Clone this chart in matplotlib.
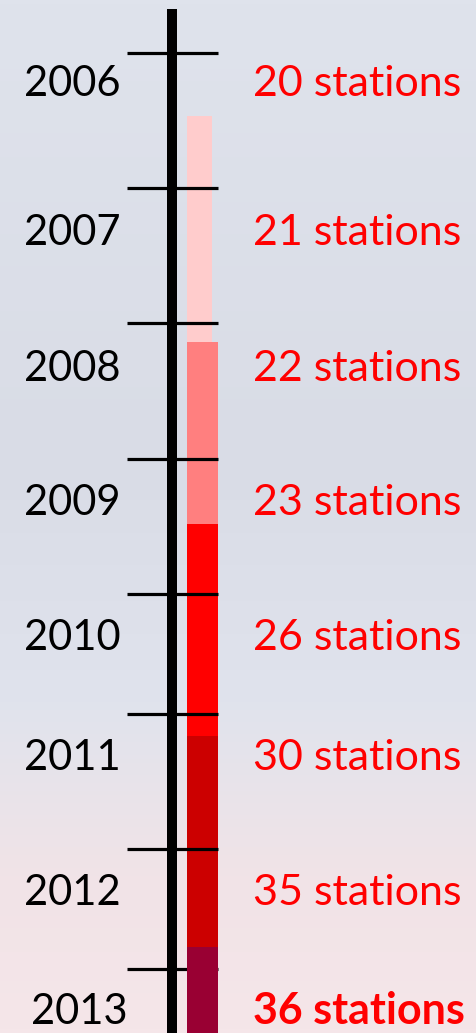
import matplotlib.pyplot as plt
import numpy as np
from matplotlib.colors import LinearSegmentedColormap

# timeline data
years = ["2006", "2007", "2008", "2009", "2010", "2011", "2012", "2013"]
stations = [20, 21, 22, 23, 26, 30, 35, 36]

# coloured bar segments (top, bottom in pixel rows) and their colours
seg_top = [116, 342, 524, 736, 947]
seg_bottom = [342, 524, 736, 947, 1033]
seg_colors = ["#FFCCCC", "#FF7F7F", "#FF0000", "#CC0000", "#990033"]
seg_width = [25, 31, 31, 31, 31]

# layout (pixel rows, figure is 477 x 1033)
tick_y = [53, 188, 323, 459, 594, 714, 849, 969]
baseline_y = [96, 245, 381, 515, 650, 770, 905, 1024]
W, H = 477, 1033

fig = plt.figure(figsize=(W / 100, H / 100), dpi=100)
ax = fig.add_axes([0, 0, 1, 1])
ax.set_xlim(0, W)
ax.set_ylim(H, 0)
ax.axis("off")

# soft background gradient
bg = LinearSegmentedColormap.from_list(
    "bg", [(0, "#DFE3EC"), (0.45, "#D9DCE6"), (0.68, "#E0E3ED"),
           (0.85, "#F1E3E7"), (1, "#F5E6E9")])
grad = np.linspace(0, 1, 256).reshape(-1, 1)
ax.imshow(grad, cmap=bg, aspect="auto", extent=[0, W, H, 0], zorder=0)

# main vertical line
ax.plot([172, 172], [9, H], color="black", lw=7.2, solid_capstyle="butt", zorder=2)

# coloured bar
for top, bot, c, w in zip(seg_top, seg_bottom, seg_colors, seg_width):
    ax.bar(187, bot - top, width=w, bottom=top, align="edge", color=c,
           linewidth=0, zorder=3)

# year ticks
for i, y in enumerate(tick_y):
    z = 2.5 if i == len(tick_y) - 1 else 4
    ax.plot([127, 218], [y, y], color="black", lw=2.3, solid_capstyle="butt", zorder=z)

# labels
for i, (yr, n, by) in enumerate(zip(years, stations, baseline_y)):
    last = i == len(years) - 1
    ax.text(128 if last else 121, by, yr, ha="right", va="baseline",
            fontsize=30, family="Lato", color="black", zorder=5)
    ax.text(253, by, f"{n} stations", ha="left", va="baseline",
            fontsize=31, family="Lato", color="#FF0000",
            fontweight="bold" if last else "normal", zorder=5)

fig.savefig("out.png", dpi=100)
